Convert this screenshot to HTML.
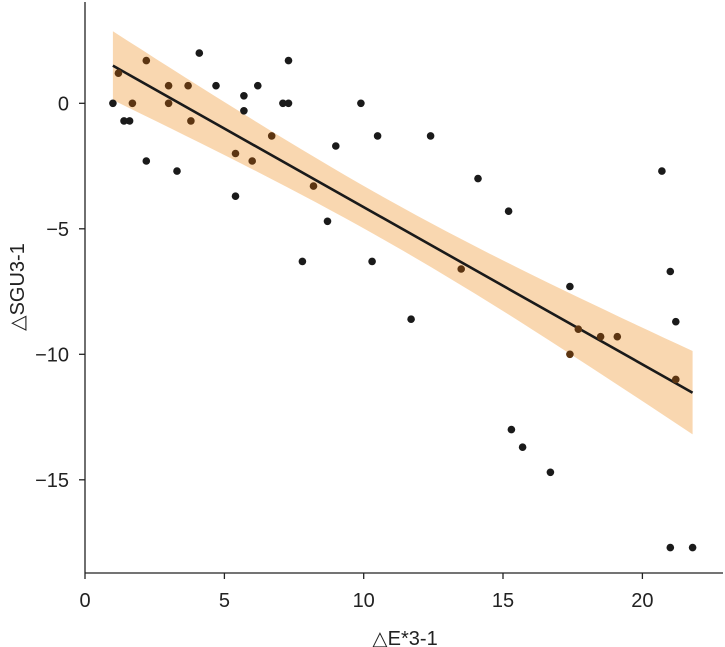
<!DOCTYPE html>
<html><head><meta charset="utf-8"><style>
html,body{margin:0;padding:0;background:#fff;}
svg{display:block;font-family:"Liberation Sans",sans-serif;}
</style></head><body>
<svg id="s" width="725" height="647" viewBox="0 0 725 647">
<g id="band"></g>
<g id="pts"></g>
<line x1="85" y1="2" x2="85" y2="573" stroke="#222" stroke-width="1.3"/>
<line x1="85" y1="573" x2="723" y2="573" stroke="#222" stroke-width="1.3"/>
<g stroke="#222" stroke-width="1.3">
<line x1="85" y1="573" x2="85" y2="579"/><line x1="224.4" y1="573" x2="224.4" y2="579"/><line x1="363.7" y1="573" x2="363.7" y2="579"/><line x1="503" y1="573" x2="503" y2="579"/><line x1="642.4" y1="573" x2="642.4" y2="579"/>
<line x1="79" y1="103.3" x2="85" y2="103.3"/><line x1="79" y1="228.8" x2="85" y2="228.8"/><line x1="79" y1="354.3" x2="85" y2="354.3"/><line x1="79" y1="479.8" x2="85" y2="479.8"/>
</g>
<g font-size="20" fill="#222" text-anchor="middle">
<text x="85" y="607">0</text><text x="224.4" y="607">5</text><text x="363.7" y="607">10</text><text x="503" y="607">15</text><text x="642.4" y="607">20</text>
</g>
<g font-size="20" fill="#222" text-anchor="end">
<text x="69" y="110.3">0</text><text x="69" y="235.8">−5</text><text x="69" y="361.3">−10</text><text x="69" y="486.8">−15</text>
</g>
<text x="405" y="645" font-size="20" fill="#222" text-anchor="middle">△E*3-1</text>
<text transform="translate(24,287) rotate(-90)" font-size="20" fill="#222" text-anchor="middle">△SGU3-1</text>
</svg>
<script>
var X=v=>85+27.87*v, Y=v=>103.3-25.1*v;
function f(x){return 1.5+(-11.53-1.5)*(x-1)/20.8;}
function w(x){var d=x-11.2;return Math.sqrt(0.72+0.0145*d*d)+(x-11.2)*0.012;}
var up=[],lo=[];
for(var i=0;i<=40;i++){var x=1+20.8*i/40;up.push(X(x).toFixed(1)+","+Y(f(x)+w(x)).toFixed(1));lo.unshift(X(x).toFixed(1)+","+Y(f(x)-w(x)).toFixed(1));}
var b=document.getElementById("band");
b.innerHTML='<polygon points="'+up.concat(lo).join(" ")+'" fill="#f9d7b0"/>'+
'<line x1="'+X(1)+'" y1="'+Y(1.5)+'" x2="'+X(21.8)+'" y2="'+Y(-11.53)+'" stroke="#1a1a1a" stroke-width="2.6"/>';
var d=[[1.0,0,0],[1.2,1.2,1],[1.4,-0.7,0],[1.6,-0.7,0],[1.7,0,1],[2.2,1.7,1],[2.2,-2.3,0],[3.0,0.7,1],[3.0,0,1],[3.3,-2.7,0],[3.7,0.7,1],[3.8,-0.7,1],[4.1,2.0,0],[4.7,0.7,0],[5.4,-3.7,0],[5.4,-2.0,1],[5.7,0.3,0],[5.7,-0.3,0],[6.0,-2.3,1],[6.2,0.7,0],[6.7,-1.3,1],[7.1,0,0],[7.3,0,0],[7.3,1.7,0],[7.8,-6.3,0],[8.2,-3.3,1],[8.7,-4.7,0],[9.0,-1.7,0],[9.9,0,0],[10.3,-6.3,0],[10.5,-1.3,0],[11.7,-8.6,0],[12.4,-1.3,0],[13.5,-6.6,1],[14.1,-3.0,0],[15.2,-4.3,0],[15.3,-13,0],[15.7,-13.7,0],[16.7,-14.7,0],[17.4,-7.3,0],[17.4,-10,1],[17.7,-9,1],[18.5,-9.3,1],[19.1,-9.3,1],[20.7,-2.7,0],[21.0,-6.7,0],[21.2,-8.7,0],[21.2,-11,1],[21.0,-17.7,0],[21.8,-17.7,0]];
var h="";d.forEach(p=>{h+='<circle cx="'+X(p[0]).toFixed(1)+'" cy="'+Y(p[1]).toFixed(1)+'" r="3.8" fill="'+(p[2]?"#5c3512":"#1a1a1a")+'"/>';});
document.getElementById("pts").innerHTML=h;
</script>
</body></html>
